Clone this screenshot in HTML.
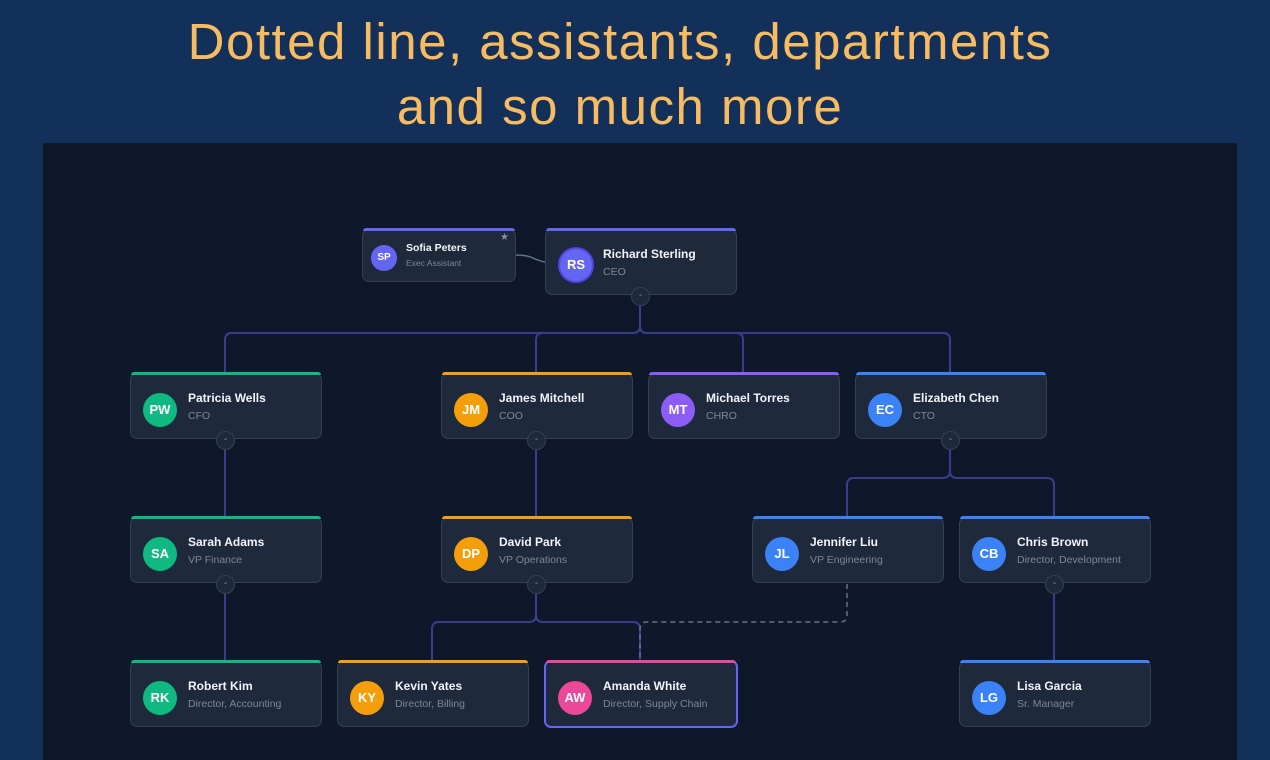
<!DOCTYPE html>
<html><head><style>
body{margin:0;width:1270px;height:760px;background:#12305a;font-family:"Liberation Sans",sans-serif;overflow:hidden;position:relative}
.t{position:absolute;left:0;width:1240px;text-align:center;color:#f7bb62;font-size:51px;letter-spacing:1.5px;line-height:60px}
.panel{position:absolute;left:43px;top:143px;width:1194px;height:617px;background:#0f172a}
.c{position:absolute;width:190px;height:64px;background:#1e293b;border:1px solid #334155;border-radius:7px}
.c .bar{position:absolute;left:0;right:0;top:-2px;height:3px;border-radius:3px 3px 0 0}
.c .av{position:absolute;left:12px;top:19px;width:34px;height:34px;border-radius:50%;color:#fff;font-size:13px;font-weight:bold;text-align:center;line-height:34px}
.c .n{position:absolute;left:57px;top:17px;color:#f1f5f9;font-size:12px;font-weight:bold}
.c .r{position:absolute;left:57px;top:36px;color:#7c8799;font-size:10.5px}
.b{position:absolute;width:17px;height:17px;border-radius:50%;background:#1e293b;border:1px solid #334155;color:#8591a3;font-size:10px;text-align:center;line-height:16px}
svg{position:absolute;left:0;top:0}
</style></head><body>
<div class="t" style="top:12px">Dotted line, assistants, departments</div>
<div class="t" style="top:77px">and so much more</div>
<div class="panel"></div>
<svg width="1270" height="760" fill="none" stroke="#3a3d8c" stroke-width="2">
<path d="M640 305V326q0 7-7 7H232q-7 0-7 7V373"/>
<path d="M640 326q0 7 7 7H943q7 0 7 7V373"/>
<path d="M536 373V340q0-7 7-7"/>
<path d="M743 373V340q0-7-7-7"/>
<path d="M225 440V517M225 584V661M536 440V517M1054 584V661"/>
<path d="M950 440V471q0 7-7 7H854q-7 0-7 7V517"/>
<path d="M950 471q0 7 7 7H1047q7 0 7 7V517"/>
<path d="M536 584V615q0 7-7 7H439q-7 0-7 7V661"/>
<path d="M536 615q0 7 7 7H633q7 0 7 7V661"/>
<path d="M847 584V615q0 7-7 7H647q-7 0-7 7V661" stroke="#64748b" stroke-dasharray="5 4" stroke-width="1.5"/>
<path d="M515 255q12 0 18 3t12 4" stroke="#64748b" stroke-width="1.5"/>
</svg>
<div class="c" style="left:362px;top:229px;width:152px;height:51px"><div class="bar" style="background:#6366f1"></div><div class="av" style="left:8px;top:15px;width:26px;height:26px;line-height:26px;font-size:10px;background:#6366f1">SP</div><div class="n" style="left:43px;top:12px;font-size:10.5px">Sofia Peters</div><div class="r" style="left:43px;top:28px;font-size:8.5px">Exec Assistant</div><div style="position:absolute;right:6px;top:2px;color:#8591a3;font-size:10px">★</div></div>
<div class="c" style="left:545px;top:229px"><div class="bar" style="background:#6366f1"></div><div class="av" style="background:#6366f1;border:2px solid #4f46e5;top:17px;width:32px;height:32px;line-height:32px">RS</div><div class="n">Richard Sterling</div><div class="r">CEO</div></div>
<div class="c" style="left:130px;top:373px"><div class="bar" style="background:#10b981"></div><div class="av" style="background:#10b981">PW</div><div class="n">Patricia Wells</div><div class="r">CFO</div></div>
<div class="c" style="left:441px;top:373px"><div class="bar" style="background:#f59e0b"></div><div class="av" style="background:#f59e0b">JM</div><div class="n">James Mitchell</div><div class="r">COO</div></div>
<div class="c" style="left:648px;top:373px"><div class="bar" style="background:#8b5cf6"></div><div class="av" style="background:#8b5cf6">MT</div><div class="n">Michael Torres</div><div class="r">CHRO</div></div>
<div class="c" style="left:855px;top:373px"><div class="bar" style="background:#3b82f6"></div><div class="av" style="background:#3b82f6">EC</div><div class="n">Elizabeth Chen</div><div class="r">CTO</div></div>
<div class="c" style="left:130px;top:517px"><div class="bar" style="background:#10b981"></div><div class="av" style="background:#10b981">SA</div><div class="n">Sarah Adams</div><div class="r">VP Finance</div></div>
<div class="c" style="left:441px;top:517px"><div class="bar" style="background:#f59e0b"></div><div class="av" style="background:#f59e0b">DP</div><div class="n">David Park</div><div class="r">VP Operations</div></div>
<div class="c" style="left:752px;top:517px"><div class="bar" style="background:#3b82f6"></div><div class="av" style="background:#3b82f6">JL</div><div class="n">Jennifer Liu</div><div class="r">VP Engineering</div></div>
<div class="c" style="left:959px;top:517px"><div class="bar" style="background:#3b82f6"></div><div class="av" style="background:#3b82f6">CB</div><div class="n">Chris Brown</div><div class="r">Director, Development</div></div>
<div class="c" style="left:130px;top:661px"><div class="bar" style="background:#10b981"></div><div class="av" style="background:#10b981">RK</div><div class="n">Robert Kim</div><div class="r">Director, Accounting</div></div>
<div class="c" style="left:337px;top:661px"><div class="bar" style="background:#f59e0b"></div><div class="av" style="background:#f59e0b">KY</div><div class="n">Kevin Yates</div><div class="r">Director, Billing</div></div>
<div class="c" style="left:544px;top:660px;border:2px solid #6366f1"><div class="bar" style="background:#ec4899"></div><div class="av" style="background:#ec4899">AW</div><div class="n">Amanda White</div><div class="r">Director, Supply Chain</div></div>
<div class="c" style="left:959px;top:661px"><div class="bar" style="background:#3b82f6"></div><div class="av" style="background:#3b82f6">LG</div><div class="n">Lisa Garcia</div><div class="r">Sr. Manager</div></div>
<div class="b" style="left:631px;top:287px">-</div>
<div class="b" style="left:216px;top:431px">-</div>
<div class="b" style="left:527px;top:431px">-</div>
<div class="b" style="left:941px;top:431px">-</div>
<div class="b" style="left:216px;top:575px">-</div>
<div class="b" style="left:527px;top:575px">-</div>
<div class="b" style="left:1045px;top:575px">-</div>
</body></html>
